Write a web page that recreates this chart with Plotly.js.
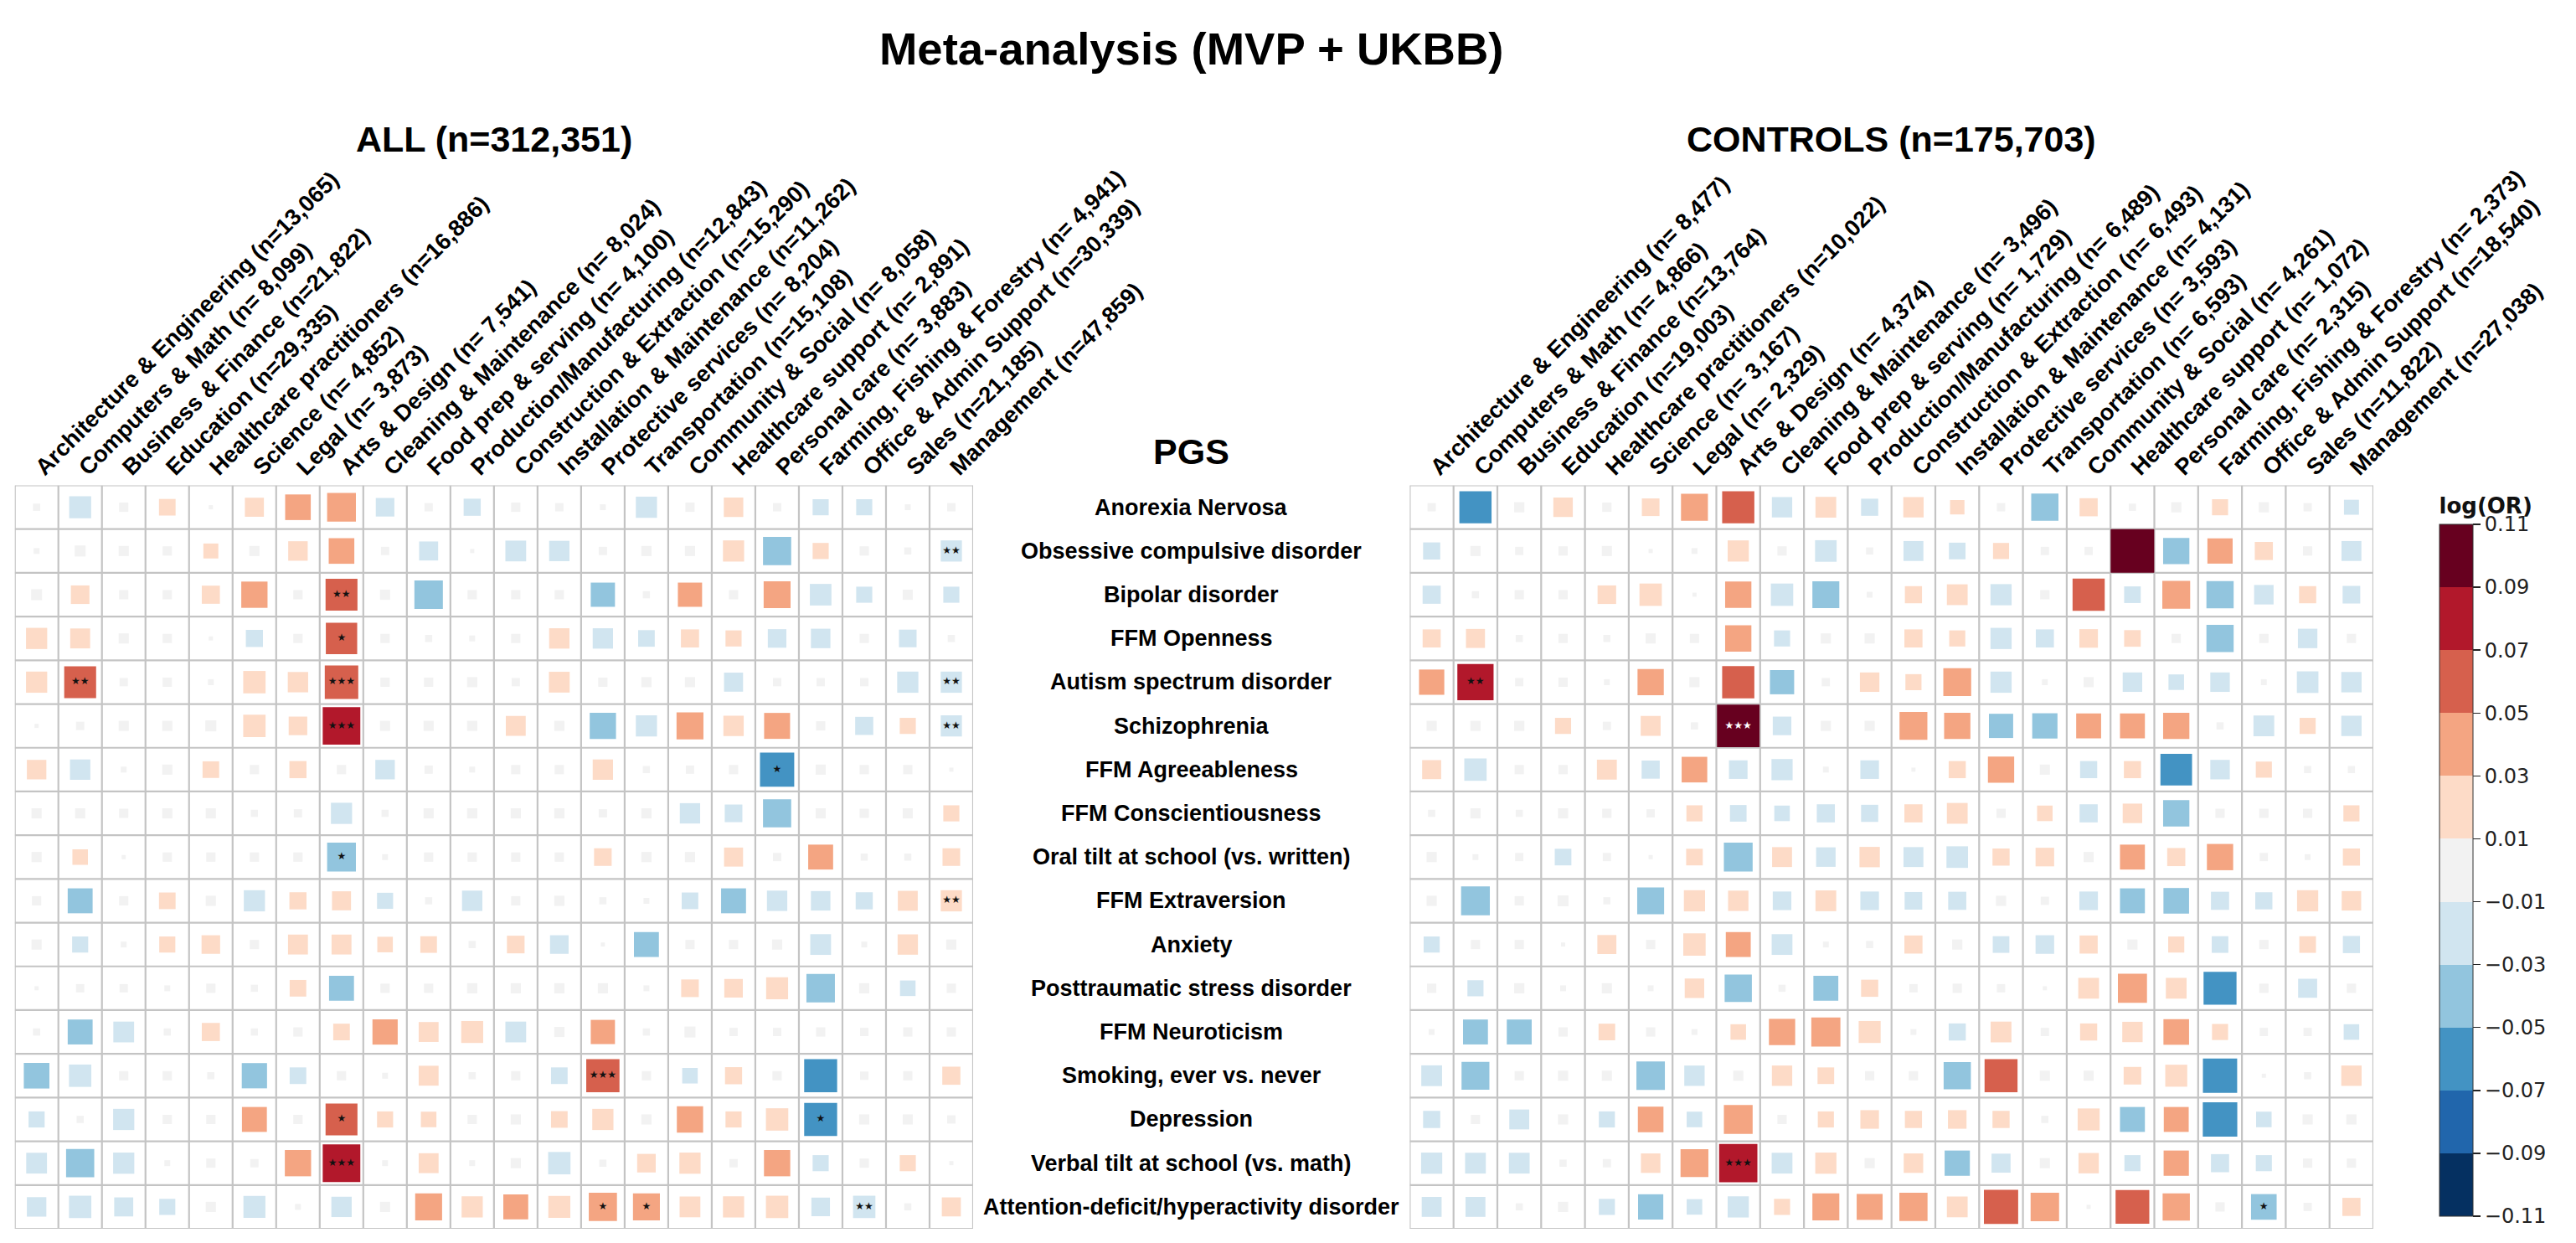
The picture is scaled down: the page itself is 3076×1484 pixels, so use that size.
<!DOCTYPE html>
<html>
<head>
<meta charset="utf-8">
<script src="https://cdn.plot.ly/plotly-3.0.1.min.js"></script>
<style>html,body{margin:0;padding:0;background:#fff;}#chart{width:3076px;height:1484px;}</style>
</head>
<body>
<div id="chart"></div>
<script>
// ---------------- DATA ----------------
const pgsNames = [
  "Anorexia Nervosa","Obsessive compulsive disorder","Bipolar disorder","FFM Openness",
  "Autism spectrum disorder","Schizophrenia","FFM Agreeableness","FFM Conscientiousness",
  "Oral tilt at school (vs. written)","FFM Extraversion","Anxiety","Posttraumatic stress disorder",
  "FFM Neuroticism","Smoking, ever vs. never","Depression","Verbal tilt at school (vs. math)",
  "Attention-deficit/hyperactivity disorder"
];

const occupationsAll = [
  "Architecture & Engineering (n=13,065)","Computers & Math (n= 8,099)","Business & Finance (n=21,822)",
  "Education (n=29,335)","Healthcare practitioners (n=16,886)","Science (n= 4,852)","Legal (n= 3,873)",
  "Arts & Design (n= 7,541)","Cleaning & Maintenance (n= 8,024)","Food prep & serving (n= 4,100)",
  "Production/Manufacturing (n=12,843)","Construction & Extraction (n=15,290)","Installation & Maintenance (n=11,262)",
  "Protective services (n= 8,204)","Transportation (n=15,108)","Community & Social (n= 8,058)",
  "Healthcare support (n= 2,891)","Personal care (n= 3,883)","Farming, Fishing & Forestry (n= 4,941)",
  "Office & Admin Support (n=30,339)","Sales (n=21,185)","Management (n=47,859)"
];

const occupationsControls = [
  "Architecture & Engineering (n= 8,477)","Computers & Math (n= 4,866)","Business & Finance (n=13,764)",
  "Education (n=19,003)","Healthcare practitioners (n=10,022)","Science (n= 3,167)","Legal (n= 2,329)",
  "Arts & Design (n= 4,374)","Cleaning & Maintenance (n= 3,496)","Food prep & serving (n= 1,729)",
  "Production/Manufacturing (n= 6,489)","Construction & Extraction (n= 6,493)","Installation & Maintenance (n= 4,131)",
  "Protective services (n= 3,593)","Transportation (n= 6,593)","Community & Social (n= 4,261)",
  "Healthcare support (n= 1,072)","Personal care (n= 2,315)","Farming, Fishing & Forestry (n= 2,373)",
  "Office & Admin Support (n=18,540)","Sales (n=11,822)","Management (n=27,038)"
];

// log(OR), rows = PGS, columns = occupations (ALL, n=312,351)
const logOrAll = [
  [0.003,-0.028,0.005,0.016,0.001,0.021,0.038,0.048,-0.020,0.004,-0.017,0.005,0.004,0.002,-0.026,0.005,0.022,0.004,-0.015,-0.015,0.002,0.004],
  [0.002,0.007,0.006,0.005,0.013,0.006,0.022,0.038,0.004,-0.021,0.001,-0.025,-0.024,0.004,0.006,0.006,0.026,-0.046,0.015,0.005,0.003,-0.026],
  [0.007,0.020,0.005,0.005,0.019,0.040,0.005,0.059,0.006,-0.047,0.005,0.005,0.005,-0.034,0.003,0.034,0.005,0.042,-0.027,-0.015,0.006,-0.015],
  [0.026,0.023,0.006,0.005,0.001,-0.017,0.005,0.057,0.005,0.003,0.002,0.005,0.024,-0.024,-0.016,0.019,0.015,-0.020,-0.022,0.005,-0.018,0.003],
  [0.026,0.059,0.004,0.005,0.002,0.029,0.024,0.065,0.005,0.005,0.006,0.004,0.025,0.005,0.006,0.006,-0.021,0.004,0.004,0.004,-0.026,-0.026],
  [0.001,0.004,0.006,0.006,0.007,0.029,0.020,0.082,0.006,0.006,0.006,0.023,0.006,-0.040,-0.026,0.042,0.024,0.039,0.005,-0.019,0.015,-0.026],
  [0.022,-0.024,0.002,0.006,0.016,0.005,0.017,0.005,-0.022,0.004,0.002,0.005,0.005,0.024,0.003,0.004,0.005,-0.068,0.006,0.005,0.005,0.001],
  [0.006,0.006,0.005,0.006,0.006,0.003,0.004,-0.026,0.003,0.006,0.006,0.006,0.006,0.004,0.006,-0.024,-0.018,-0.046,0.006,0.005,0.006,0.015],
  [0.006,0.014,0.001,0.005,0.005,0.005,0.005,-0.048,0.002,0.005,0.005,0.005,0.005,0.018,0.006,0.006,0.021,0.004,0.036,0.003,0.003,0.018],
  [0.005,-0.036,0.005,0.016,0.006,-0.026,0.017,0.021,-0.015,0.003,-0.024,0.005,0.006,0.003,0.002,-0.016,-0.036,-0.024,-0.022,-0.017,0.023,0.026],
  [0.006,-0.015,0.002,0.015,0.020,0.005,0.023,0.023,0.014,0.016,0.003,0.018,-0.020,0.001,-0.036,0.005,0.005,0.006,-0.025,0.002,0.024,0.006],
  [0.001,0.004,0.004,0.002,0.005,0.003,0.016,-0.036,0.005,0.005,0.006,0.006,0.006,0.006,0.002,0.018,0.020,0.028,-0.047,0.006,-0.014,0.005],
  [0.003,-0.036,-0.025,0.003,0.019,0.003,0.005,0.016,0.037,0.023,0.028,-0.025,0.006,0.034,0.003,0.007,0.004,0.004,0.005,0.004,0.005,0.005],
  [-0.038,-0.029,0.005,0.005,0.003,-0.037,-0.016,0.005,0.002,0.023,0.003,0.005,-0.016,0.064,0.005,-0.014,0.017,0.005,-0.063,0.004,0.005,0.019],
  [-0.015,0.003,-0.026,0.005,0.005,0.036,0.005,0.059,0.015,0.014,0.005,0.006,0.016,0.026,0.006,0.040,0.015,0.029,-0.063,0.006,0.006,0.004],
  [-0.025,-0.046,-0.026,0.002,0.005,0.004,0.040,0.082,0.002,0.023,0.002,0.006,-0.029,0.003,0.020,0.026,0.004,0.040,-0.015,0.005,0.015,0.001],
  [-0.022,-0.029,-0.021,-0.015,0.006,-0.028,0.002,-0.024,0.006,0.042,0.026,0.036,0.028,0.046,0.042,0.025,0.026,0.029,-0.020,-0.029,0.003,0.021]
];

// log(OR), CONTROLS (n=175,703)
const logOrControls = [
  [0.004,-0.060,0.006,0.022,0.005,0.018,0.042,0.060,-0.024,0.025,-0.017,0.024,0.012,0.004,-0.043,0.019,0.003,0.006,0.015,0.006,0.004,-0.013],
  [-0.017,0.006,0.004,0.005,0.006,0.001,0.002,0.026,0.005,-0.027,0.003,-0.023,-0.016,0.015,0.004,0.004,0.110,-0.040,0.037,0.019,0.005,-0.023],
  [-0.019,0.003,0.005,0.005,0.020,0.029,0.001,0.040,-0.029,-0.042,0.002,0.017,0.025,-0.026,0.005,0.060,-0.016,0.045,-0.043,-0.022,0.017,-0.018],
  [0.019,0.021,0.003,0.005,0.003,0.006,0.005,0.040,-0.015,0.006,0.006,0.019,0.015,-0.026,-0.019,0.020,0.016,0.005,-0.043,0.005,-0.022,0.005],
  [0.037,0.076,0.004,0.005,0.002,0.040,0.006,0.060,-0.034,0.004,0.022,0.015,0.045,-0.026,0.002,0.006,-0.022,-0.014,-0.022,0.002,-0.027,-0.024],
  [0.006,0.006,0.006,0.015,0.004,0.023,0.003,0.105,-0.020,0.006,0.006,0.045,0.040,-0.034,-0.037,0.036,0.036,0.040,0.003,-0.025,0.015,-0.024],
  [0.021,-0.029,0.005,0.005,0.023,-0.019,0.038,-0.020,-0.026,0.002,-0.020,0.001,0.017,0.040,0.006,-0.017,0.017,-0.058,-0.022,0.015,0.003,0.003],
  [0.003,0.006,0.003,0.006,0.005,0.004,0.015,-0.016,-0.014,-0.019,-0.017,0.019,0.025,0.005,0.014,-0.019,0.022,-0.040,0.005,0.005,0.005,0.015],
  [0.006,0.002,0.004,-0.016,0.004,0.001,0.016,-0.048,0.023,-0.022,0.024,-0.023,-0.027,0.017,0.020,0.006,0.036,0.019,0.040,0.004,0.002,0.017],
  [0.006,-0.048,0.005,0.007,0.003,-0.042,0.026,0.024,-0.020,0.025,-0.020,-0.018,-0.019,0.006,0.004,-0.020,-0.036,-0.038,-0.019,-0.017,0.026,0.022],
  [-0.015,0.005,0.005,0.001,0.021,0.005,0.029,0.036,-0.025,0.002,0.003,0.019,0.006,-0.016,-0.020,0.019,0.006,0.015,-0.016,0.005,0.016,-0.017],
  [0.005,-0.015,0.006,0.002,0.006,0.002,0.022,-0.043,0.003,-0.036,0.017,0.004,0.005,0.004,0.001,0.025,0.049,0.025,-0.063,0.005,-0.021,0.005],
  [0.002,-0.036,-0.036,0.005,0.016,0.005,0.002,0.014,0.040,0.049,0.028,0.002,-0.017,0.025,0.004,0.017,0.024,0.038,0.015,0.004,0.004,-0.014],
  [-0.025,-0.045,0.005,0.006,0.006,-0.047,-0.024,0.006,0.024,0.016,0.005,0.005,-0.043,0.063,0.006,0.006,0.018,0.028,-0.068,0.001,0.003,0.024],
  [-0.017,0.005,-0.023,0.006,-0.015,0.038,-0.014,0.048,0.005,0.015,0.020,0.017,0.020,0.017,0.003,0.028,-0.036,0.036,-0.069,-0.014,0.006,0.006],
  [-0.026,-0.025,-0.025,0.003,0.004,0.022,0.045,0.085,-0.025,0.026,0.006,0.022,-0.037,-0.021,0.006,0.024,-0.015,0.037,-0.019,-0.015,0.005,0.005],
  [-0.023,-0.023,0.003,0.006,-0.015,-0.037,-0.014,-0.026,0.015,0.042,0.039,0.046,0.025,0.068,0.047,0.001,0.066,0.043,0.005,-0.038,0.004,0.019]
];

// significance marks: [PGS index, occupation index, stars]
const sigAll = [
  [1,21,"**"],[2,7,"**"],[3,7,"*"],[4,1,"**"],[4,7,"***"],[4,21,"**"],[5,7,"***"],[5,21,"**"],
  [6,17,"*"],[8,7,"*"],[9,21,"**"],[13,13,"***"],[14,7,"*"],[14,18,"*"],[15,7,"***"],
  [16,13,"*"],[16,14,"*"],[16,19,"**"]
];
const sigControls = [[4,1,"**"],[5,7,"***"],[15,7,"***"],[16,19,"*"]];

const colorTicks = [0.11,0.09,0.07,0.05,0.03,0.01,-0.01,-0.03,-0.05,-0.07,-0.09,-0.11];
const binColors = ["#053061","#2166ac","#4393c3","#92c5de","#d1e5f0","#f2f2f2","#fddbc7","#f4a582","#d6604d","#b2182b","#67001f"];

// ---------------- LAYOUT CONSTANTS ----------------
const W = 3076, H = 1484;
const LIM = 0.11;
const domLeft = [17.7/W, 1162/W];
const domRight = [1683.4/W, 2834/W];
const domY = [1 - 1467/H, 1 - 579.5/H];
const SANS = "'Liberation Sans', Arial, sans-serif";
const DEJAVU = "'DejaVu Sans', Verdana, sans-serif";

const nC = occupationsAll.length, nR = pgsNames.length;
const cellPx = (domLeft[1]-domLeft[0]) * W / nC;

// stepped colorscale
const colorscale = [];
binColors.forEach((c,i)=>{ colorscale.push([i/binColors.length, c]); colorscale.push([(i+1)/binColors.length, c]); });

function panel(values, occ, sig, xa, ya) {
  const sigMap = {};
  sig.forEach(s => { sigMap[s[0]+'_'+s[1]] = s[2]; });
  const x=[], y=[], c=[], sz=[], txt=[], tcol=[];
  for (let r=0; r<nR; r++) {
    for (let k=0; k<nC; k++) {
      const v = values[r][k];
      x.push(occ[k]); y.push(pgsNames[r]); c.push(v);
      sz.push(Math.max(3, cellPx * Math.sqrt(Math.min(Math.abs(v), LIM)/LIM)));
      const s = sigMap[r+'_'+k];
      txt.push(s ? s.replace(/\*/g,'\u2605') : '');
      tcol.push(Math.abs(v) > 0.09 ? '#ffffff' : '#111111');
    }
  }
  return {
    type:'scatter', mode:'markers+text', x:x, y:y, xaxis:xa, yaxis:ya,
    text: txt, textposition:'middle center',
    textfont:{family: DEJAVU, size: 12, color: tcol},
    marker:{symbol:'square', size: sz, color: c, coloraxis:'coloraxis', opacity:1, line:{width:0}},
    hoverinfo:'skip', cliponaxis:false
  };
}

const traces = [
  panel(logOrAll, occupationsAll, sigAll, 'x', 'y'),
  panel(logOrControls, occupationsControls, sigControls, 'x2', 'y2')
];

// grid lines
const shapes = [];
[['x','y'],['x2','y2']].forEach(([xa,ya])=>{
  for (let i=0; i<=nC; i++) shapes.push({type:'line', xref:xa, yref:ya, x0:i-0.5, x1:i-0.5, y0:-0.5, y1:nR-0.5, line:{color:'#c4c4c4', width:2.2}, layer:'below'});
  for (let j=0; j<=nR; j++) shapes.push({type:'line', xref:xa, yref:ya, x0:-0.5, x1:nC-0.5, y0:j-0.5, y1:j-0.5, line:{color:'#c4c4c4', width:2.2}, layer:'below'});
});

function xAxis(domain, cats, anchor) {
  return {domain:domain, anchor:anchor, type:'category', categoryorder:'array', categoryarray:cats,
    range:[-0.5, nC-0.5], side:'top', tickangle:-45, ticks:'', showgrid:false, zeroline:false, showline:false,
    tickfont:{family:SANS, size:27.5, color:'#000', weight:'bold'}, fixedrange:true};
}
function yAxis(anchor) {
  return {domain:domY, anchor:anchor, type:'category', categoryorder:'array', categoryarray:pgsNames,
    range:[nR-0.5, -0.5], showticklabels:false, ticks:'', showgrid:false, zeroline:false, showline:false, fixedrange:true};
}

const gapCenter = ((domLeft[1] + domRight[0]) / 2);
const annotations = pgsNames.map(p => ({
  xref:'paper', yref:'y', x:gapCenter, y:p, xanchor:'center', yanchor:'middle', showarrow:false,
  text:p, font:{family:SANS, size:27, color:'#000', weight:'bold'}
}));
annotations.push({xref:'paper', yref:'paper', x:gapCenter, y:1-539/H, xanchor:'center', yanchor:'middle', showarrow:false,
  text:'PGS', font:{family:SANS, size:43, color:'#000', weight:'bold'}});
annotations.push({xref:'paper', yref:'paper', x:(domLeft[0]+domLeft[1])/2, y:1-166/H, xanchor:'center', yanchor:'middle', showarrow:false,
  text:'ALL (n=312,351)', font:{family:SANS, size:43, color:'#000', weight:'bold'}});
annotations.push({xref:'paper', yref:'paper', x:(domRight[0]+domRight[1])/2, y:1-166/H, xanchor:'center', yanchor:'middle', showarrow:false,
  text:'CONTROLS (n=175,703)', font:{family:SANS, size:43, color:'#000', weight:'bold'}});

const layout = {
  width:W, height:H, margin:{l:0,r:0,t:0,b:0}, paper_bgcolor:'#fff', plot_bgcolor:'rgba(0,0,0,0)',
  showlegend:false, hovermode:false,
  title:{text:'Meta-analysis (MVP + UKBB)', x:gapCenter, xanchor:'center', y:1-58/H, yanchor:'middle',
    font:{family:SANS, size:54.5, color:'#000', weight:'bold'}},
  xaxis: xAxis(domLeft, occupationsAll, 'y'),
  yaxis: yAxis('x'),
  xaxis2: xAxis(domRight, occupationsControls, 'y2'),
  yaxis2: yAxis('x2'),
  coloraxis:{
    cmin:-LIM, cmax:LIM, colorscale:colorscale,
    colorbar:{
      x:2913/W, xanchor:'left', y:1-1021.5/H, yanchor:'middle',
      len:861, lenmode:'pixels', thickness:40, thicknessmode:'pixels', xpad:0, ypad:0,
      outlinewidth:1, outlinecolor:'#333',
      tickmode:'array', tickvals:colorTicks, ticktext:colorTicks.map(v => (v<0?'\u2212':'') + Math.abs(v).toFixed(2)),
      ticks:'outside', ticklen:9, tickwidth:1.5, tickcolor:'#222',
      tickfont:{family:DEJAVU, size:24, color:'#222'},
      title:{text:'log(OR)', side:'top', font:{family:DEJAVU, size:26, color:'#111', weight:'bold'}}
    }
  },
  shapes:shapes, annotations:annotations
};

Plotly.newPlot('chart', traces, layout, {displayModeBar:false, staticPlot:true});
</script>
</body>
</html>
